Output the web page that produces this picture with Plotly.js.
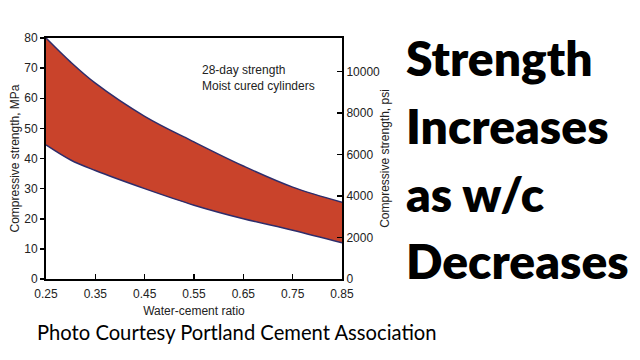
<!DOCTYPE html>
<html><head><meta charset="utf-8">
<script src="https://cdn.plot.ly/plotly-3.0.1.min.js"></script>
<style>html,body{margin:0;padding:0;background:#fff}#c{width:640px;height:360px}</style>
</head><body><div id="c"></div>
<script>
const wcRatio = [0.25, 0.30, 0.35, 0.45, 0.55, 0.65, 0.75, 0.85];
const upperMPa = [80, 72, 65, 54, 45.5, 37.5, 30.5, 25.5];
const lowerMPa = [44.5, 39.5, 36, 30, 24.5, 20, 16.2, 12];
const xTicks = [0.25, 0.35, 0.45, 0.55, 0.65, 0.75, 0.85];
const psiTicks = [0, 2000, 4000, 6000, 8000, 10000];
const MPA_TO_PSI = 145.038;

const lineCol = '#2e2d6b';
const fillCol = '#c9432b';
const axisFont = {family: 'Liberation Sans, Arial, sans-serif', size: 12, color: '#222'};
const titleFont = {family: 'Liberation Sans, Arial, sans-serif', size: 12, color: '#222'};

const data = [
  {x: wcRatio, y: lowerMPa, mode: 'lines', line: {color: lineCol, width: 1.5, shape: 'spline'}, hoverinfo: 'skip', showlegend: false},
  {x: wcRatio, y: upperMPa, mode: 'lines', fill: 'tonexty', fillcolor: fillCol, line: {color: lineCol, width: 1.5, shape: 'spline'}, hoverinfo: 'skip', showlegend: false},
  {x: [0.25, 0.85], y: [0, 0], yaxis: 'y2', mode: 'lines', line: {width: 0}, hoverinfo: 'skip', showlegend: false}
];

const bigFont = {family: 'Lato, Noto Sans, sans-serif', size: 48, color: '#000', weight: 800};
const big = ['Strength', 'Increases', 'as w/c', 'Decreases'];
const bigY = [77, 145, 213, 280];
const annotations = [
  {xref: 'paper', yref: 'paper', x: (200-46)/296, y: (279-70)/241, xanchor: 'left', yanchor: 'middle', text: '28-day strength', showarrow: false, font: titleFont},
  {xref: 'paper', yref: 'paper', x: (200-46)/296, y: (279-86)/241, xanchor: 'left', yanchor: 'middle', text: 'Moist cured cylinders', showarrow: false, font: titleFont},
  {xref: 'paper', yref: 'paper', x: (35-46)/296, y: (279-332)/241, xanchor: 'left', yanchor: 'middle', text: 'Photo Courtesy Portland Cement Association', showarrow: false, font: {family: 'Lato, Noto Sans, sans-serif', size: 20.2, color: '#000'}}
];
big.forEach((t, i) => annotations.push({xref: 'paper', yref: 'paper', x: (404-46)/296, y: (279-bigY[i])/241, xanchor: 'left', yanchor: 'bottom', yshift: -11, text: t, showarrow: false, font: bigFont}));

const layout = {
  width: 640, height: 360,
  margin: {l: 46, r: 298, t: 38, b: 81, pad: 0},
  paper_bgcolor: '#fff', plot_bgcolor: '#fff',
  xaxis: {range: [0.25, 0.85], tickvals: xTicks, ticktext: xTicks.map(v => v.toFixed(2)), ticks: 'inside', ticklen: 5, tickwidth: 1.5, tickcolor: '#000',
    ticklabelstandoff: 3,
    showline: true, linewidth: 2, linecolor: '#000', mirror: true, showgrid: false, zeroline: false, tickfont: axisFont,
    title: {text: 'Water-cement ratio', font: titleFont, standoff: 6}},
  yaxis: {range: [0, 80], dtick: 10, ticks: 'outside', ticklen: 4, tickwidth: 1.5, tickcolor: '#000',
    showline: true, linewidth: 2, linecolor: '#000', showgrid: false, zeroline: false, tickfont: axisFont,
    title: {text: 'Compressive strength, MPa', font: titleFont, standoff: 2}},
  yaxis2: {range: [0, 80*MPA_TO_PSI], tickvals: psiTicks, ticktext: psiTicks.map(String), overlaying: 'y', side: 'right', ticks: 'inside', ticklen: 5, tickwidth: 1.5, tickcolor: '#000',
    showline: true, linewidth: 2, linecolor: '#000', showgrid: false, zeroline: false, tickfont: axisFont,
    title: {text: 'Compressive strength, psi', font: titleFont, standoff: 2}},
  annotations: annotations
};
Plotly.newPlot('c', data, layout, {staticPlot: true, displayModeBar: false});
</script></body></html>
